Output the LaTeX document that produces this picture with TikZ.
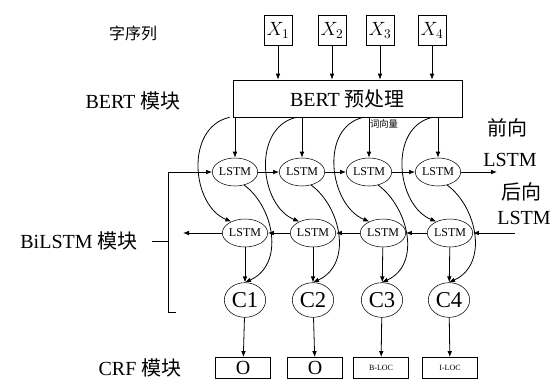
\documentclass[tikz,border=0pt]{standalone}
\usepackage{fontspec}
\setmainfont{Liberation Serif}
\newfontfamily\cjk{Noto Sans CJK SC}
\usetikzlibrary{shapes.geometric,arrows.meta}

\begin{document}
\begin{tikzpicture}[x=0.75pt,y=0.75pt,yscale=-1,xscale=1,
  lstmnode/.style={draw,ellipse,inner sep=0pt,minimum width=34pt,minimum height=21pt,font=\fontsize{9}{9}\selectfont},
  crfnode/.style={draw,ellipse,inner sep=0pt,minimum width=31pt,minimum height=26pt,font=\fontsize{17}{17}\selectfont},
  inbox/.style={draw,inner sep=0pt,minimum width=21pt,minimum height=22.5pt,font=\fontsize{14}{14}\selectfont},
  tagbox/.style={draw,inner sep=0pt,minimum width=41pt,minimum height=16pt},
  arr/.style={-{Latex[length=4.5pt,width=3.5pt]},line width=0.6pt},
  lbl/.style={inner sep=0pt,font=\fontsize{15}{15}\selectfont}]

\useasboundingbox (0,0) rectangle (554,380);

% Input characters
\node [inbox] (x1) at (278,30) {$X_1$};
\node [inbox] (x2) at (332,30) {$X_2$};
\node [inbox] (x3) at (380,30) {$X_3$};
\node [inbox] (x4) at (432,30) {$X_4$};

%Shape: Rectangle
\node [draw,inner sep=0pt,minimum width=171.75pt,minimum height=27.75pt,font=\fontsize{15}{15}\selectfont] (bert) at (347.5,98.5) {BERT {\cjk 预处理}};

% Forward LSTM
\node [lstmnode] (f1) at (235,172) {LSTM};
\node [lstmnode] (f2) at (302,172) {LSTM};
\node [lstmnode] (f3) at (369,172) {LSTM};
\node [lstmnode] (f4) at (438,172) {LSTM};

% Backward LSTM
\node [lstmnode] (b1) at (245,233) {LSTM};
\node [lstmnode] (b2) at (313,233) {LSTM};
\node [lstmnode] (b3) at (383,233) {LSTM};
\node [lstmnode] (b4) at (450,233) {LSTM};

% Combined outputs
\node [crfnode] (c1) at (245,300) {C1};
\node [crfnode] (c2) at (313,300) {C2};
\node [crfnode] (c3) at (382,300) {C3};
\node [crfnode] (c4) at (449,300) {C4};

% Tags
\node [tagbox,font=\fontsize{15}{15}\selectfont] (o1) at (243,368) {O};
\node [tagbox,font=\fontsize{15}{15}\selectfont] (o2) at (315,368) {O};
\node [tagbox,font=\fontsize{6}{6}\selectfont] (o3) at (381,368) {B-LOC};
\node [tagbox,font=\fontsize{6}{6}\selectfont] (o4) at (450,368) {I-LOC};

\coordinate (fin) at (168,172);
\coordinate (fout) at (497,172);
\coordinate (bin) at (515,233);
\coordinate (bout) at (183,233);

%Straight Lines
\draw [arr] (x1) -- (bert.north -| x1);
\draw [arr] (x2) -- (bert.north -| x2);
\draw [arr] (x3) -- (bert.north -| x3);
\draw [arr] (x4) -- (bert.north -| x4);
\draw [arr] (bert.south -| f1) -- (f1);
\draw [arr] (bert.south -| f2) -- (f2);
\draw [arr] (bert.south -| f3) -- (f3);
\draw [arr] (bert.south -| f4) -- (f4);

%Curve Lines
\draw [arr] ([xshift=-4pt]bert.south -| f1) .. controls +(-45,10) and +(-40,-16) .. (b1.140);
\draw [arr] ([xshift=-4pt]bert.south -| f2) .. controls +(-45,10) and +(-40,-16) .. (b2.140);
\draw [arr] ([xshift=-4pt]bert.south -| f3) .. controls +(-45,10) and +(-40,-16) .. (b3.140);
\draw [arr] ([xshift=-4pt]bert.south -| f4) .. controls +(-45,10) and +(-40,-16) .. (b4.140);
\draw [arr] (f1.-55) .. controls +(30,22) and +(40,-18) .. (c1.north);
\draw [arr] (f2.-55) .. controls +(30,22) and +(40,-18) .. (c2.north);
\draw [arr] (f3.-55) .. controls +(30,22) and +(40,-18) .. (c3.north);
\draw [arr] (f4.-55) .. controls +(30,22) and +(40,-18) .. (c4.north);

%Straight Lines
\draw [arr] (fin) -- (f1);
\draw [arr] (f1) -- (f2);
\draw [arr] (f2) -- (f3);
\draw [arr] (f3) -- (f4);
\draw [arr] (f4) -- (fout);
\draw [arr] (bin) -- (b4);
\draw [arr] (b4) -- (b3);
\draw [arr] (b3) -- (b2);
\draw [arr] (b2) -- (b1);
\draw [arr] (b1) -- (bout);
\draw [arr] (b1) -- (c1);
\draw [arr] (b2) -- (c2);
\draw [arr] (b3) -- (c3);
\draw [arr] (b4) -- (c4);
\draw [arr] (c1) -- (o1);
\draw [arr] (c2) -- (o2);
\draw [arr] (c3) -- (o3);
\draw [arr] (c4) -- (o4);

% Bracket
\draw [line width=0.6pt] (fin) -- (168,312) -- (176,312);
\draw [line width=0.6pt] (152,241) -- (168,241);

% Text Node
\node [lbl,font=\cjk\fontsize{12}{12}\selectfont] (tseq) at (133,33) {字序列};
% Text Node
\node [lbl] (tbert) at (133,101) {BERT {\cjk 模块}};
% Text Node
\node [lbl] (tbilstm) at (79,241) {BiLSTM {\cjk 模块}};
% Text Node
\node [lbl] (tcrf) at (140,368) {CRF {\cjk 模块}};
% Text Node
\node [lbl,font=\cjk\fontsize{15}{15}\selectfont] (tfw) at (507,128) {前向};
\node [lbl] (tfwl) at (510,160) {LSTM};
% Text Node
\node [lbl,font=\cjk\fontsize{15}{15}\selectfont] (tbw) at (521,192) {后向};
\node [lbl] (tbwl) at (524,218) {LSTM};
% Text Node
\node [inner sep=0pt,font=\cjk\fontsize{7}{7}\selectfont] (tvec) at (384,124) {词向量};
\end{tikzpicture}
\end{document}
